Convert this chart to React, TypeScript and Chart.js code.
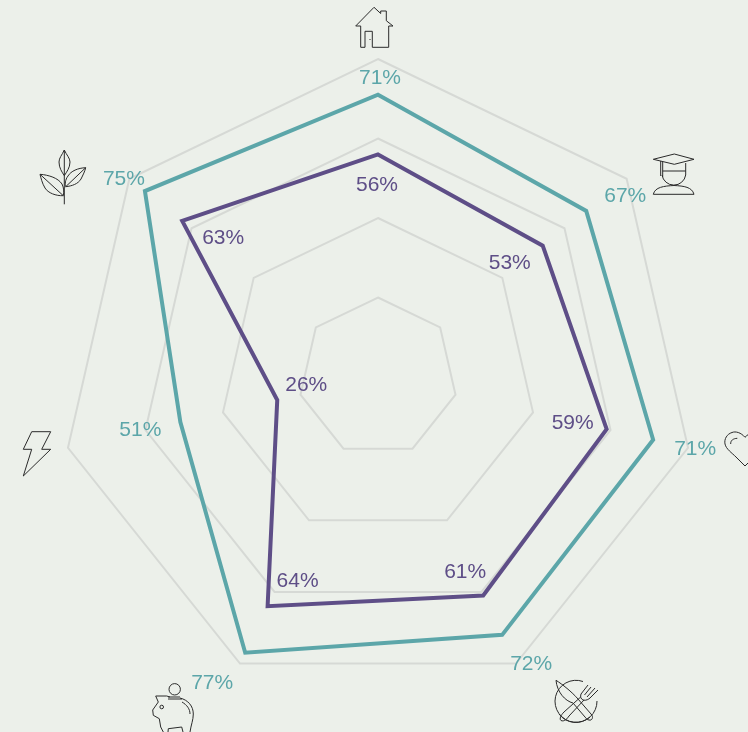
import React, { useEffect, useRef } from "react";
import { Chart, registerables } from "chart.js";

Chart.register(...registerables);

const categories = ["Housing", "Education", "Health", "Food", "Savings", "Energy", "Environment"];
const tealValues = [71, 67, 71, 72, 77, 51, 75];
const purpleValues = [56, 53, 59, 61, 64, 26, 63];
const tickStep = 20;
const tickMax = 80;

const TEAL = "#5CA6A9";
const PURPLE = "#5E4E87";
const GRID = "#D6D9D5";
const BG = "#ECF0EA";
const INK = "#2A2A2A";

// label offsets from each data point, in pixels (display only)
const tealOffsets = [[1, -19], [38, -17], [41, 7], [28, 27], [-34, 28], [-41, 6], [-22, -14]];
const purpleOffsets = [[-2, 29], [-34, 16], [-35, -8], [-19, -25], [29, -27], [28, -17], [40, 15]];

const iconPaths = [
  // house
  "M360.7 26 L355.7 26 L374 7.3 L380.7 13.5 L380.7 11 L386.3 11 L386.3 20.7 L393 26 L388.7 26 L388.7 47.3 L372.3 47.3 L372.3 31.3 L365 31.3 L365 47.3 L360.7 47.3 Z M370 39 L370 40",
  // graduate
  "M653.3 159.3 L674.3 154 L694 159.3 L674.3 164.3 Z M660.7 161 L660.7 176 M662.7 162 L662.7 177 M662.7 171 L685.7 171 M685.7 163 L685.7 175 A12 12 0 0 1 662 175 M653.3 194.3 C655 187 664 186 674 185.5 C684 186 692 187 694 194.3 Z",
  // heart
  "M745 437.3 C741 432.5 735.5 431 732 432.5 C727 434 724 439 725 444 C726 449 732 453 736 457 L745 466 L752 459 M745 437.3 C747 435 750 433 754 432.5 M730.7 444 C730.5 440.5 733 438.5 737.3 438.3",
  // cutlery
  "M597 701 A21 21 0 1 1 583 681.5 M590 717 A21 21 0 0 1 559 714 M556 680.3 C562 684 572 692 578 699 L591 714 C594 717 592 721 589 720 C587 720 586 718 585 717 L573 703 C565 701 557 692 556 680.3 Z M588 685 L581 694 C580 697 581 699 583 700 C586 701 589 699 590 698 L598 690 M591 687 L584.5 695 M595 688 L587 697 M580.7 697 L564 712 C561 715 559 719 561 720.5 C564 722 567 719 569 716 L584 700",
  // piggy
  "M180.4 689.3 A5.7 5.7 0 1 1 169 689.3 A5.7 5.7 0 1 1 180.4 689.3 M168 697 L180 697 M168 699 L182 699 M155.7 696 L166.7 696 L170 697 M180 698 C188 700 193.3 706 193.3 714 C193.3 720 191 725 190 732 M182 702 C187 705 190 709 190 714 M155.7 696 L158.3 702 L152.7 710 L153.3 715.3 L159.3 718.7 L160.7 727 L163.3 732 M168 732 L168.3 728.7 L181.7 727 L183 732 M163.5 707 A1.8 1.8 0 1 1 159.9 707 A1.8 1.8 0 1 1 163.5 707",
  // bolt
  "M31.7 431.7 L50.7 431.7 L41.7 449.3 L50.7 449.3 L23.3 476 L31.7 449.3 L23.3 449.3 Z",
  // plant
  "M64.3 150 L64.3 204.3 M64.3 150 C62 155 59 158 59 162 C59 168 62 172 64.3 175.7 C66.5 172 70 168 70 162 C70 158 66.5 155 64.3 150 Z M40 174.3 C49 175 58 178 62 184 C64 188 64 192 63.3 195.7 C56 196 48 193 45 188 C42 183 41 178 40 174.3 Z M40 174.3 L63.3 195.7 M85.7 167.7 C78 168 71 171 68 176 C65 180 65 184 65.7 186.7 C72 186 78 184 81 179 C83 175 85 171 85.7 167.7 Z M85.7 167.7 L65.7 186.7",
];

const overlayPlugin = {
  id: "overlay",
  afterDatasetsDraw(chart: any) {
    const { ctx } = chart;
    const scale = chart.scales.r;
    ctx.save();
    ctx.font = '21px "Liberation Sans", Arial, sans-serif';
    ctx.textAlign = "center";
    ctx.textBaseline = "middle";
    const put = (values: number[], offsets: number[][], color: string) => {
      ctx.fillStyle = color;
      values.forEach((v, i) => {
        const p = scale.getPointPositionForValue(i, v);
        ctx.fillText(v + "%", p.x + offsets[i][0] + 1, p.y + offsets[i][1] + 2);
      });
    };
    put(tealValues, tealOffsets, TEAL);
    put(purpleValues, purpleOffsets, PURPLE);
    ctx.strokeStyle = INK;
    ctx.lineWidth = 1;
    iconPaths.forEach((d) => ctx.stroke(new Path2D(d)));
    ctx.restore();
  },
};

export default function App() {
  const ref = useRef<HTMLCanvasElement>(null);
  useEffect(() => {
    const chart = new Chart(ref.current!, {
      type: "radar",
      data: {
        labels: categories,
        datasets: [
          { label: "Teal", data: tealValues, borderColor: TEAL, borderWidth: 4, fill: false, pointRadius: 0, tension: 0 },
          { label: "Purple", data: purpleValues, borderColor: PURPLE, borderWidth: 4, fill: false, pointRadius: 0, tension: 0 },
        ],
      },
      options: {
        responsive: false,
        animation: false,
        layout: { padding: { left: 60, right: 52, top: 59, bottom: 37 } },
        plugins: { legend: { display: false }, tooltip: { enabled: false } },
        scales: {
          r: {
            min: 0,
            max: tickMax,
            ticks: { display: false, stepSize: tickStep },
            pointLabels: { display: false },
            angleLines: { display: false },
            grid: { color: GRID, lineWidth: 2, circular: false },
          },
        },
      },
      plugins: [overlayPlugin],
    } as any);
    return () => chart.destroy();
  }, []);
  return (
    <div style={{ position: "fixed", left: 0, top: 0, width: 748, height: 732, background: BG, overflow: "hidden" }}>
      <canvas ref={ref} width={748} height={732} style={{ display: "block", width: 748, height: 732 }} />
    </div>
  );
}
